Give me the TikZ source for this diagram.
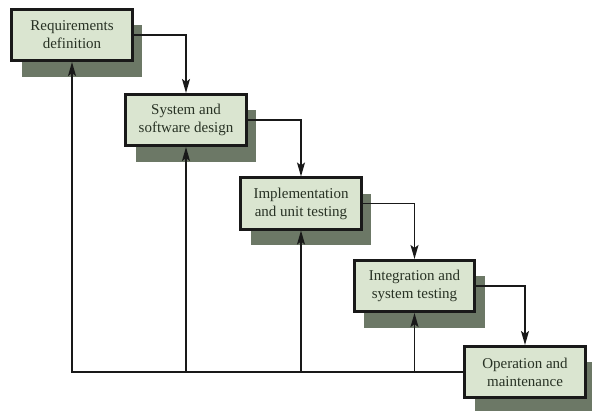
\documentclass[tikz,border=0pt]{standalone}
\usepackage{fontspec}
\setmainfont{Liberation Serif}
\usetikzlibrary{arrows.meta,shadows}
\definecolor{boxfill}{RGB}{218,229,208}
\definecolor{shadowc}{RGB}{108,120,102}
\definecolor{txt}{RGB}{40,50,36}
\definecolor{linec}{RGB}{25,25,25}
\begin{document}
\begin{tikzpicture}[x=1pt,y=-1pt,
  phase/.style={draw=linec, line width=2.6pt, fill=boxfill, text=txt,
    minimum width=120.5pt, minimum height=51.5pt, inner sep=0pt, align=center,
    font=\fontsize{15}{18}\selectfont,
    drop shadow={shadow xshift=10pt, shadow yshift=-16pt, fill=shadowc, opacity=1}},
  conn/.style={draw=linec, line width=1.4pt, -{Stealth[length=14pt,width=8pt,inset=3pt]}}]
\clip (0,0) rectangle (592,411);
\fill[white] (0,0) rectangle (592,411);
\node[phase] (B1) at (72,35) {Requirements\\definition};
\node[phase] (B2) at (186,120) {System and\\software design};
\node[phase] (B3) at (301,203.5) {Implementation\\and unit testing};
\node[phase] (B4) at (414.5,286) {Integration and\\system testing};
\node[phase] (B5) at (525,372) {Operation and\\maintenance};
\draw[conn] (B1.east) -| (B2.north);
\draw[conn] (B2.east) -| (B3.north);
\draw[conn] (B3.east) -| (B4.north);
\draw[conn] (B4.east) -| (B5.north);
\draw[conn] (B5.west) -| (B1.south);
\draw[conn] (B2.south |- B5.west) -- (B2.south);
\draw[conn] (B3.south |- B5.west) -- (B3.south);
\draw[conn] (B4.south |- B5.west) -- (B4.south);
\end{tikzpicture}
\end{document}
